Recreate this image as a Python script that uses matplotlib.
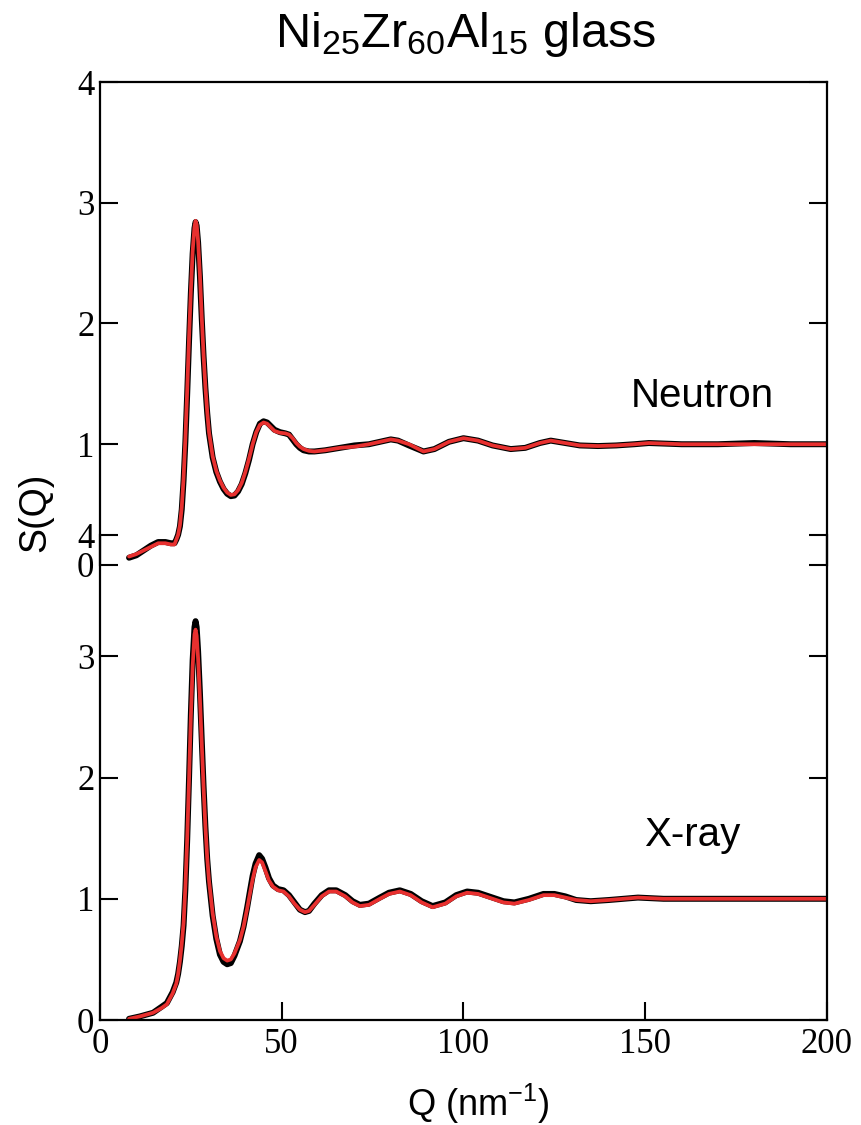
import numpy as np
import matplotlib
matplotlib.use("Agg")
import matplotlib.pyplot as plt

# neutron S(Q): black = measured, red = model
q_n = [8, 10, 12, 14, 16, 18, 19.5, 20.5, 21, 21.5,
       22, 22.5, 23, 23.5, 24, 24.5, 25, 25.5, 26, 26.3,
       26.6, 27, 27.5, 28, 28.5, 29, 29.5, 30, 31, 32,
       33, 34, 35, 36, 37, 38, 39, 40, 41, 42,
       43, 44, 45, 46, 47, 48, 49.5, 51, 52, 53,
       54, 55, 56, 57.5, 59, 62, 66, 70, 74, 77,
       80, 82, 85, 89, 92, 96, 100, 104, 108, 113,
       117, 121, 124, 128, 132, 137, 142, 147, 151, 160,
       170, 180, 190, 200]
s_n_red = [0.07, 0.09, 0.12, 0.15, 0.18, 0.18, 0.17, 0.17, 0.21, 0.25,
           0.33, 0.48, 0.72, 1.05, 1.45, 1.88, 2.27, 2.60, 2.80, 2.85,
           2.82, 2.68, 2.40, 2.05, 1.74, 1.48, 1.27, 1.10, 0.90, 0.78,
           0.70, 0.64, 0.60, 0.58, 0.585, 0.62, 0.68, 0.77, 0.88, 1.00,
           1.10, 1.16, 1.18, 1.17, 1.14, 1.11, 1.095, 1.09, 1.08, 1.05,
           1.01, 0.98, 0.96, 0.945, 0.94, 0.95, 0.97, 0.98, 1.00, 1.02,
           1.04, 1.03, 1.00, 0.94, 0.96, 1.02, 1.05, 1.03, 0.99, 0.96,
           0.97, 1.01, 1.03, 1.01, 0.99, 0.985, 0.99, 1.00, 1.01, 1.00,
           1.00, 1.00, 1.00, 1.00]
s_n_blk = [0.06, 0.08, 0.12, 0.16, 0.19, 0.19, 0.18, 0.18, 0.21, 0.25,
           0.32, 0.46, 0.70, 1.02, 1.42, 1.85, 2.25, 2.58, 2.79, 2.84,
           2.81, 2.67, 2.39, 2.04, 1.73, 1.47, 1.26, 1.09, 0.89, 0.77,
           0.69, 0.63, 0.59, 0.57, 0.575, 0.61, 0.67, 0.76, 0.87, 1.00,
           1.10, 1.17, 1.19, 1.18, 1.15, 1.12, 1.10, 1.09, 1.08, 1.04,
           1.00, 0.97, 0.95, 0.94, 0.94, 0.95, 0.97, 0.99, 1.00, 1.02,
           1.04, 1.03, 0.99, 0.94, 0.96, 1.02, 1.05, 1.03, 0.99, 0.96,
           0.97, 1.01, 1.03, 1.01, 0.99, 0.985, 0.99, 1.00, 1.01, 1.00,
           1.00, 1.01, 1.00, 1.00]

# x-ray S(Q)
q_x = [8, 11, 14.6, 17, 18.4, 20, 21, 21.5, 22, 22.5,
       23, 23.5, 24, 24.5, 25, 25.5, 26, 26.3, 26.6, 27,
       27.5, 28, 28.5, 29, 29.5, 30, 31, 32, 33, 34,
       35, 36, 37, 38.5, 39.5, 40.5, 41.3, 42, 42.8, 43.8,
       44.6, 45.5, 46.5, 47.6, 49, 50.5, 52, 53.5, 55, 56.4,
       57.5, 59, 61, 63, 65, 67.5, 69.5, 71.5, 74, 77,
       79.5, 82.5, 85.5, 88.5, 91.5, 95, 98, 101, 104, 108,
       111, 114, 118, 122, 125, 128, 131, 135, 140, 148,
       155, 165, 175, 185, 200]
s_x_red = [0.01, 0.03, 0.06, 0.10, 0.13, 0.22, 0.30, 0.38, 0.49, 0.63,
           0.80, 1.10, 1.50, 1.98, 2.50, 2.92, 3.18, 3.22, 3.17, 2.98,
           2.65, 2.28, 1.92, 1.60, 1.34, 1.15, 0.88, 0.69, 0.57, 0.51,
           0.49, 0.50, 0.55, 0.66, 0.77, 0.92, 1.05, 1.16, 1.26, 1.32,
           1.30, 1.23, 1.15, 1.10, 1.07, 1.06, 1.02, 0.96, 0.91, 0.89,
           0.90, 0.95, 1.02, 1.06, 1.06, 1.02, 0.97, 0.94, 0.95, 1.00,
           1.04, 1.06, 1.03, 0.97, 0.93, 0.96, 1.02, 1.05, 1.04, 1.00,
           0.97, 0.96, 0.99, 1.03, 1.03, 1.01, 0.99, 0.98, 0.99, 1.01,
           1.00, 1.00, 1.00, 1.00, 1.00]
s_x_blk = [0.01, 0.03, 0.06, 0.11, 0.14, 0.23, 0.31, 0.38, 0.48, 0.61,
           0.78, 1.08, 1.49, 1.99, 2.52, 2.97, 3.24, 3.29, 3.24, 3.04,
           2.70, 2.31, 1.93, 1.60, 1.33, 1.14, 0.86, 0.67, 0.54, 0.48,
           0.46, 0.47, 0.53, 0.65, 0.77, 0.93, 1.07, 1.19, 1.29, 1.36,
           1.33, 1.26, 1.17, 1.11, 1.08, 1.07, 1.03, 0.97, 0.91, 0.89,
           0.90, 0.96, 1.03, 1.07, 1.07, 1.03, 0.98, 0.95, 0.96, 1.01,
           1.05, 1.07, 1.04, 0.98, 0.94, 0.97, 1.03, 1.06, 1.05, 1.01,
           0.98, 0.97, 1.00, 1.04, 1.04, 1.02, 0.99, 0.98, 0.99, 1.01,
           1.00, 1.00, 1.00, 1.00, 1.00]

yticks = [0, 1, 2, 3, 4]
xticks = [0, 50, 100, 150, 200]
red = "#e8302f"

fig = plt.figure(figsize=(8.61, 11.25), dpi=100)
ax_n = fig.add_axes([0.1161, 0.4978, 0.8444, 0.4293])
ax_x = fig.add_axes([0.1161, 0.0933, 0.8444, 0.4311])
ax_n.patch.set_alpha(0)
ax_x.patch.set_alpha(0)

tick_font = {"family": "Liberation Serif", "size": 25}
line_kw = dict(solid_capstyle="round", solid_joinstyle="round")

for ax in (ax_n, ax_x):
    ax.set_xlim(0, 200)
    ax.set_ylim(0, 4)
    ax.set_yticks(yticks)
    ax.set_yticklabels([str(t) for t in yticks], fontdict=tick_font)
    ax.tick_params(axis="y", direction="in", length=13, width=1.5,
                   left=True, right=True, pad=4)
    for s in ax.spines.values():
        s.set_linewidth(1.6)

ax_n.plot(q_n, s_n_blk, color="black", lw=4.3, **line_kw)
ax_n.plot(q_n, s_n_red, color=red, lw=2.7, **line_kw)
ax_x.plot(q_x, s_x_blk, color="black", lw=4.3, **line_kw)
ax_x.plot(q_x, s_x_red, color=red, lw=2.7, **line_kw)

ax_n.spines["bottom"].set_visible(False)
ax_n.set_xticks([])
ax_x.spines["top"].set_visible(False)
ax_x.set_xticks(xticks)
ax_x.set_xticklabels([str(t) for t in xticks], fontdict=tick_font)
ax_x.tick_params(axis="x", direction="in", length=13, width=1.5,
                 top=False, pad=6)

ax_n.text(165.6, 1.40, "Neutron", family="Liberation Sans", fontsize=29,
          ha="center", va="center")
ax_x.text(163, 1.53, "X-ray", family="Liberation Sans", fontsize=29,
          ha="center", va="center")

fig.text(0.541, 0.969, r"Ni$\mathregular{_{25}}$Zr$\mathregular{_{60}}$Al$\mathregular{_{15}}$ glass",
         family="Liberation Sans", fontsize=35, ha="center", va="center")
fig.text(0.041, 0.545, "S(Q)", family="Liberation Sans", fontsize=27,
         rotation=90, ha="center", va="center")
fig.text(0.555, 0.019, r"Q (nm$\mathregular{^{-1}}$)", family="Liberation Sans",
         fontsize=26, ha="center", va="center")

fig.savefig("out.png", dpi=100)
